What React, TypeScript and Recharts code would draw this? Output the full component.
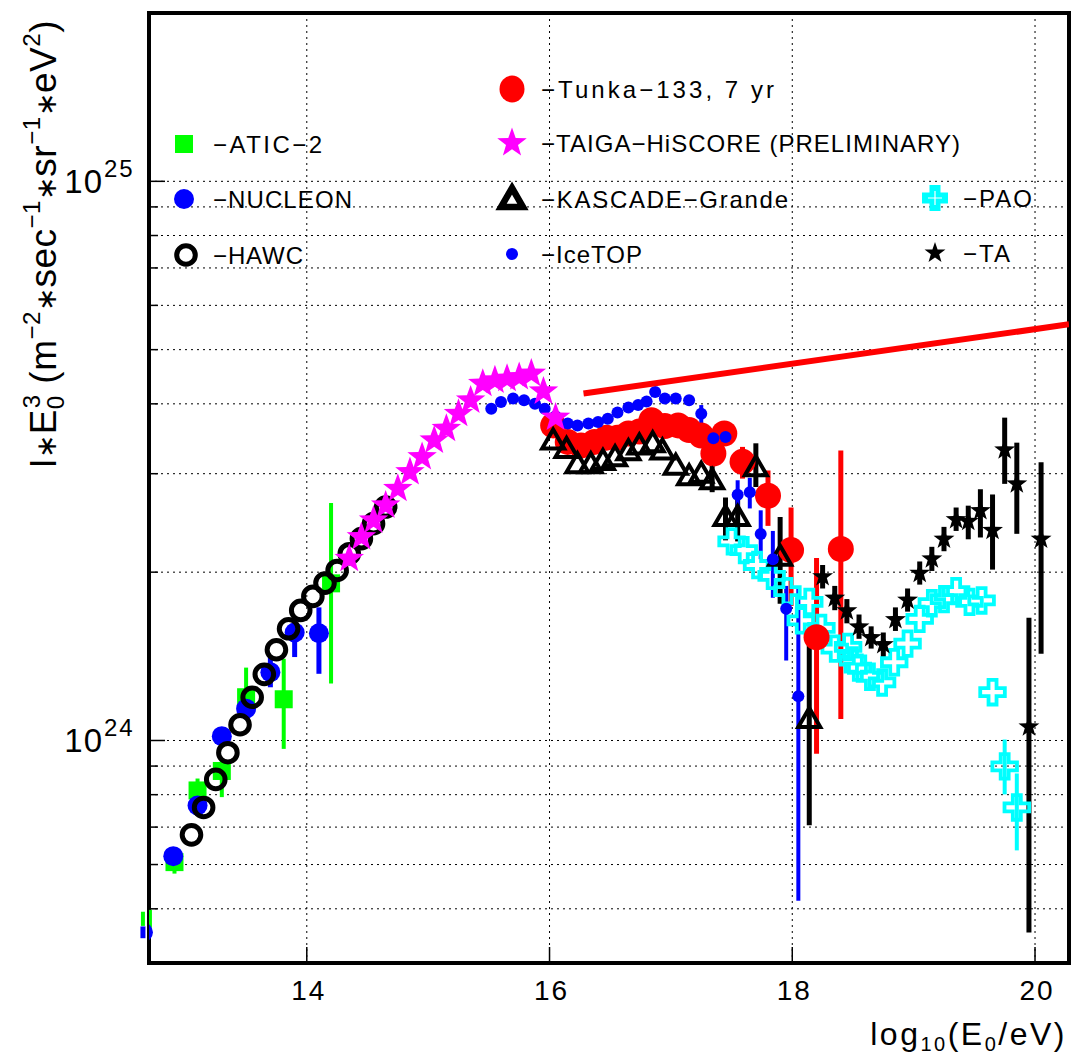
import {
  CartesianGrid,
  ErrorBar,
  Legend,
  ReferenceArea,
  Scatter,
  ScatterChart,
  XAxis,
  YAxis,
} from 'recharts';

const FONT = "'Liberation Sans', Arial, Helvetica, sans-serif";
const W = 1072;
const H = 1057;

// x: log10(E0/eV), y: I*E0^3 in units of 1e24 m^-2 s^-1 sr^-1 eV^2
const aticX = [12.65, 12.91, 13.1, 13.3, 13.5, 13.81, 14.2];
const aticY = [0.48, 0.606, 0.814, 0.882, 1.195, 1.185, 1.91];
const aticLo = [0.466, 0.578, 0.76, 0.792, 1.09, 0.966, 1.265];
const aticHi = [0.494, 0.636, 0.855, 0.921, 1.35, 1.4, 2.66];

const nucleonX = [12.65, 12.9, 13.1, 13.3, 13.5, 13.7, 13.9, 14.1];
const nucleonY = [0.454, 0.621, 0.765, 1.018, 1.14, 1.325, 1.56, 1.555];
const nucleonLo = [0.443, 0.6, 0.734, 0.984, 1.095, 1.245, 1.41, 1.316];
const nucleonHi = [0.465, 0.641, 0.797, 1.05, 1.19, 1.41, 1.625, 1.73];

const hawcX = [13.05, 13.15, 13.25, 13.35, 13.45, 13.55, 13.65, 13.75, 13.85, 13.95, 14.05, 14.15, 14.25, 14.35, 14.45, 14.55, 14.65];
const hawcY = [0.678, 0.759, 0.852, 0.951, 1.067, 1.195, 1.313, 1.453, 1.584, 1.709, 1.81, 1.912, 2.014, 2.158, 2.296, 2.442, 2.615];

const taigaX = [14.35, 14.45, 14.55, 14.65, 14.75, 14.85, 14.95, 15.05, 15.15, 15.25, 15.35, 15.45, 15.55, 15.65, 15.75, 15.85, 15.95, 16.05];
const taigaY = [2.114, 2.311, 2.475, 2.633, 2.82, 3.02, 3.213, 3.441, 3.611, 3.84, 4.057, 4.346, 4.406, 4.436, 4.467, 4.53, 4.21, 3.78];

const icetopX = [15.52, 15.6, 15.7, 15.79, 15.88, 15.96, 16.05, 16.15, 16.23, 16.32, 16.4, 16.48, 16.56, 16.65, 16.73, 16.8, 16.87, 16.95, 17.04, 17.15, 17.25, 17.35, 17.45, 17.55, 17.65, 17.74, 17.84, 17.95, 18.05];
const icetopY = [3.92, 4.03, 4.09, 4.06, 4.0, 3.92, 3.8, 3.69, 3.66, 3.69, 3.71, 3.76, 3.86, 3.94, 3.98, 4.04, 4.2, 4.09, 4.09, 4.06, 3.84, 3.47, 3.49, 2.75, 2.78, 2.34, 2.11, 1.72, 1.2];
const icetopLo = [null, null, null, null, null, null, null, null, null, null, null, null, null, null, null, null, null, null, null, null, 3.69, 3.37, 3.37, 2.6, 2.6, 2.11, 1.8, 1.39, 0.517];
const icetopHi = [null, null, null, null, null, null, null, null, null, null, null, null, null, null, null, null, null, null, null, null, 3.98, 3.56, 3.59, 2.92, 2.95, 2.58, 2.37, 1.89, 1.89];

const tunkaX = [16.03, 16.15, 16.26, 16.37, 16.47, 16.56, 16.65, 16.74, 16.84, 16.95, 17.06, 17.15, 17.25, 17.35, 17.44, 17.59, 17.8, 17.99, 18.2, 18.4];
const tunkaY = [3.66, 3.42, 3.37, 3.42, 3.48, 3.48, 3.54, 3.57, 3.74, 3.65, 3.66, 3.59, 3.51, 3.26, 3.54, 3.15, 2.74, 2.19, 1.53, 2.2];
const tunkaLo = [null, null, null, null, null, null, null, null, null, null, null, null, null, null, 3.43, 2.94, 2.42, 1.74, 0.947, 1.093];
const tunkaHi = [null, null, null, null, null, null, null, null, null, null, null, null, null, null, 3.65, 3.35, 3.04, 2.61, 2.12, 3.3];

const kascadeX = [16.03, 16.14, 16.23, 16.34, 16.44, 16.54, 16.65, 16.74, 16.85, 16.93, 17.04, 17.15, 17.25, 17.34, 17.45, 17.55, 17.7, 17.9, 18.14];
const kascadeY = [3.44, 3.32, 3.12, 3.12, 3.16, 3.21, 3.29, 3.37, 3.4, 3.3, 3.1, 2.97, 3.0, 2.92, 2.51, 2.51, 3.08, 2.13, 1.093];
const kascadeLo = [null, null, null, null, null, null, null, null, null, null, null, null, null, 2.78, 2.28, 2.27, 2.84, 1.756, 0.705];
const kascadeHi = [null, null, null, null, null, null, null, null, null, null, null, null, null, 3.13, 2.72, 2.78, 3.4, 2.51, 1.49];

const paoX = [17.5, 17.6, 17.71, 17.83, 17.96, 18.07, 18.14, 18.24, 18.35, 18.46, 18.5, 18.54, 18.64, 18.74, 18.84, 18.95, 19.05, 19.15, 19.25, 19.35, 19.46, 19.56, 19.65, 19.75, 19.85];
const paoY = [2.27, 2.19, 2.06, 1.97, 1.85, 1.64, 1.77, 1.59, 1.46, 1.47, 1.39, 1.35, 1.3, 1.27, 1.38, 1.49, 1.65, 1.76, 1.79, 1.85, 1.77, 1.78, 1.22, 0.899, 0.759];
const paoLo = [null, null, null, null, null, null, null, null, null, null, null, null, null, null, null, null, null, null, null, null, null, null, null, 0.801, 0.636];
const paoHi = [null, null, null, null, null, null, null, null, null, null, null, null, null, null, null, null, null, null, null, null, null, null, null, 1.004, 0.873];

const taX = [18.25, 18.35, 18.45, 18.55, 18.65, 18.75, 18.85, 18.95, 19.05, 19.15, 19.25, 19.35, 19.45, 19.55, 19.65, 19.75, 19.85, 19.95, 20.05];
const taY = [1.963, 1.797, 1.706, 1.597, 1.528, 1.484, 1.645, 1.783, 1.991, 2.112, 2.291, 2.484, 2.466, 2.577, 2.376, 3.309, 2.877, 1.058, 2.291];
const taLo = [1.87, 1.71, 1.62, 1.52, 1.46, 1.41, 1.57, 1.7, 1.9, 2.01, 2.18, 2.37, 2.29, 2.307, 2.021, 2.877, 2.342, 0.4535, 1.43];
const taHi = [2.06, 1.89, 1.79, 1.68, 1.6, 1.56, 1.73, 1.87, 2.09, 2.22, 2.41, 2.61, 2.63, 2.814, 2.754, 3.779, 3.409, 1.657, 3.144];

// straight reference line (red)
const lineX = [16.28, 20.28];
const lineY = [4.175, 5.55];

const xTicks = [14, 16, 18, 20];
const yTicks = [0.5, 0.6, 0.7, 0.8, 0.9, 1, 2, 3, 4, 5, 6, 7, 8, 9, 10, 20];

type Kind = 'atic' | 'nucleon' | 'hawc' | 'tunka' | 'taiga' | 'kascade' | 'icetop' | 'pao' | 'ta';

function toRows(xs: number[], ys: number[], lo?: (number | null)[], hi?: (number | null)[]) {
  return xs.map((x, i) => {
    const y = ys[i];
    const l = lo?.[i] ?? y;
    const h = hi?.[i] ?? y;
    return { x, y, err: [y - l, h - y] };
  });
}

function starPoints(cx: number, cy: number, R: number, r: number) {
  const pts: string[] = [];
  for (let i = 0; i < 10; i++) {
    const a = -Math.PI / 2 + (i * Math.PI) / 5;
    const rr = i % 2 === 0 ? R : r;
    pts.push(`${cx + rr * Math.cos(a)},${cy + rr * Math.sin(a)}`);
  }
  return pts.join(' ');
}

function crossPoints(cx: number, cy: number, L: number, a: number) {
  const p = [[-a, -L], [a, -L], [a, -a], [L, -a], [L, a], [a, a], [a, L], [-a, L], [-a, a], [-L, a], [-L, -a], [-a, -a]];
  return p.map(([dx, dy]) => `${cx + dx},${cy + dy}`).join(' ');
}

function Marker({ kind, cx, cy, inKey }: { kind: Kind; cx: number; cy: number; inKey?: boolean }) {
  switch (kind) {
    case 'atic':
      return <rect x={cx - 9} y={cy - 9} width={18} height={18} fill='#00ff00' />;
    case 'nucleon':
      return <circle cx={cx} cy={cy} r={10} fill='#0000ff' />;
    case 'hawc':
      return <circle cx={cx} cy={cy} r={9.3} fill='none' stroke='#000' strokeWidth={5} />;
    case 'tunka':
      return inKey
        ? <ellipse cx={cx} cy={cy} rx={12.5} ry={13.5} fill='#ff0000' />
        : <circle cx={cx} cy={cy} r={13} fill='#ff0000' />;
    case 'taiga':
      return <polygon points={starPoints(cx, cy, 15.5, 6.3)} fill='#ff00ff' />;
    case 'kascade':
      return (
        <polygon
          points={`${cx},${cy - 11} ${cx + 11},${cy + 8} ${cx - 11},${cy + 8}`}
          fill='none'
          stroke='#000'
          strokeWidth={inKey ? 6.5 : 4}
        />
      );
    case 'icetop':
      return <circle cx={cx} cy={cy} r={6} fill='#0000ff' />;
    case 'pao':
      return inKey
        ? (
          <g>
            <polygon points={crossPoints(cx, cy, 13, 5.5)} fill='#00ffff' />
            <polygon points={crossPoints(cx, cy, 7, 0.6)} fill='#fff' />
          </g>
        )
        : <polygon points={crossPoints(cx, cy, 12.3, 4)} fill='none' stroke='#00ffff' strokeWidth={3.8} />;
    case 'ta':
      return <polygon points={starPoints(cx, cy, 11, 4.4)} fill='#000' />;
  }
  return null;
}

const series: { kind: Kind; rows: ReturnType<typeof toRows>; color: string; ew: number }[] = [
  { kind: 'atic', rows: toRows(aticX, aticY, aticLo, aticHi), color: '#00ff00', ew: 4 },
  { kind: 'nucleon', rows: toRows(nucleonX, nucleonY, nucleonLo, nucleonHi), color: '#0000ff', ew: 5 },
  { kind: 'hawc', rows: toRows(hawcX, hawcY), color: '#000', ew: 4 },
  { kind: 'pao', rows: toRows(paoX, paoY, paoLo, paoHi), color: '#00ffff', ew: 4 },
  { kind: 'tunka', rows: toRows(tunkaX, tunkaY, tunkaLo, tunkaHi), color: '#ff0000', ew: 5 },
  { kind: 'kascade', rows: toRows(kascadeX, kascadeY, kascadeLo, kascadeHi), color: '#000', ew: 5 },
  { kind: 'icetop', rows: toRows(icetopX, icetopY, icetopLo, icetopHi), color: '#0000ff', ew: 4 },
  { kind: 'taiga', rows: toRows(taigaX, taigaY), color: '#ff00ff', ew: 4 },
  { kind: 'ta', rows: toRows(taX, taY, taLo, taHi), color: '#000', ew: 5 },
];

const lineRows = toRows(lineX, lineY);

// legend layout: marker centre, text start and text width
const keyItems: { kind: Kind; label: string; mx: number; my: number; tx: number; tw: number }[] = [
  { kind: 'atic', label: '−ATIC−2', mx: 184, my: 144, tx: 213, tw: 109 },
  { kind: 'nucleon', label: '−NUCLEON', mx: 184, my: 199, tx: 213, tw: 139 },
  { kind: 'hawc', label: '−HAWC', mx: 186, my: 255, tx: 213, tw: 90 },
  { kind: 'tunka', label: '−Tunka−133, 7 yr', mx: 512, my: 89, tx: 541, tw: 233 },
  { kind: 'taiga', label: '−TAIGA−HiSCORE (PRELIMINARY)', mx: 512, my: 143, tx: 541, tw: 419 },
  { kind: 'kascade', label: '−KASCADE−Grande', mx: 512, my: 199, tx: 541, tw: 247 },
  { kind: 'icetop', label: '−IceTOP', mx: 512, my: 254, tx: 541, tw: 101 },
  { kind: 'pao', label: '−PAO', mx: 935, my: 198, tx: 963, tw: 69 },
  { kind: 'ta', label: '−TA', mx: 935, my: 253, tx: 963, tw: 47 },
];

function Key() {
  return (
    <svg width={W} height={H} style={{ position: 'absolute', left: 0, top: 0 }}>
      {keyItems.map((k) => (
        <g key={k.label}>
          <Marker kind={k.kind} cx={k.mx} cy={k.my} inKey />
          <text
            x={k.tx}
            y={k.my}
            dominantBaseline='central'
            fontSize={24}
            textLength={k.tw}
            lengthAdjust='spacing'
            fontFamily={FONT}
            fill='#000'
          >
            {k.label}
          </text>
        </g>
      ))}
    </svg>
  );
}

function XTick(props: any) {
  const { x, y, payload } = props;
  return (
    <g>
      <line x1={x} x2={x} y1={y} y2={y - 16} stroke='#000' strokeWidth={1.5} />
      <text x={x + 2} y={y + 37} textAnchor='middle' fontSize={28} letterSpacing={2} fontFamily={FONT} fill='#000'>
        {payload.value}
      </text>
    </g>
  );
}

function YTick(props: any) {
  const { x, y, payload } = props;
  const v = payload.value;
  const exp = v === 1 ? '24' : v === 10 ? '25' : null;
  return (
    <g>
      <line x1={x} x2={x + (exp ? 16 : 9)} y1={y} y2={y} stroke='#000' strokeWidth={1.5} />
      {exp && (
        <text x={x - 46} y={y + 12} textAnchor='end' fontSize={33} letterSpacing={1} fontFamily={FONT} fill='#000'>
          10
        </text>
      )}
      {exp && (
        <text x={x - 45} y={y - 4} fontSize={24} letterSpacing={2} fontFamily={FONT} fill='#000'>
          {exp}
        </text>
      )}
    </g>
  );
}

function XTitle(props: any) {
  const { viewBox } = props;
  return (
    <text
      x={viewBox.x + viewBox.width - 2}
      y={viewBox.y + 82}
      textAnchor='end'
      fontSize={32}
      letterSpacing={2.5}
      fontFamily={FONT}
      fill='#000'
    >
      log<tspan fontSize={20} dy={6}>10</tspan>
      <tspan dy={-6}>(E</tspan>
      <tspan fontSize={20} dy={6}>0</tspan>
      <tspan dy={-6}>/eV)</tspan>
    </text>
  );
}

function YTitle(props: any) {
  const { viewBox } = props;
  const ax = viewBox.x + 56;
  const ay = viewBox.y + 7;
  return (
    <text
      transform={`translate(${ax},${ay}) rotate(-90)`}
      textAnchor='end'
      fontSize={37}
      letterSpacing={0.5}
      fontFamily={FONT}
      fill='#000'
    >
      I<tspan fontSize={28}>∗</tspan>E<tspan fontSize={24} dy={8}>0</tspan>
      <tspan fontSize={24} dx={-13} dy={-24}>3</tspan>
      <tspan dy={16}> (m</tspan>
      <tspan fontSize={24} dy={-16}>−2</tspan>
      <tspan fontSize={28} dy={16}>∗</tspan>
      <tspan>sec</tspan>
      <tspan fontSize={24} dy={-16}>−1</tspan>
      <tspan fontSize={28} dy={16}>∗</tspan>
      <tspan>sr</tspan>
      <tspan fontSize={24} dy={-16}>−1</tspan>
      <tspan fontSize={28} dy={16}>∗</tspan>
      <tspan>eV</tspan>
      <tspan fontSize={24} dy={-16}>2</tspan>
      <tspan dy={16}>)</tspan>
    </text>
  );
}

export default function App() {
  return (
    <div style={{ position: 'absolute', left: 0, top: 0, width: W, height: H, background: '#fff' }}>
      <ScatterChart width={W} height={H} margin={{ top: 13, right: 3, bottom: 0, left: 0 }}>
        <CartesianGrid stroke='#000' strokeDasharray='2 4' strokeWidth={1} />
        <XAxis
          type='number'
          dataKey='x'
          domain={[12.7, 20.28]}
          allowDataOverflow
          ticks={xTicks}
          interval={0}
          height={94}
          tickSize={0}
          tickMargin={0}
          tickLine={false}
          axisLine={false}
          tick={<XTick />}
          label={(p: any) => <XTitle {...p} />}
        />
        <YAxis
          type='number'
          dataKey='y'
          scale='log'
          domain={[0.4, 20]}
          allowDataOverflow
          ticks={yTicks}
          interval={0}
          width={149}
          tickSize={0}
          tickMargin={0}
          tickLine={false}
          axisLine={false}
          tick={<YTick />}
          label={(p: any) => <YTitle {...p} />}
        />
        {series.map((s) => (
          <Scatter
            key={s.kind}
            name={s.kind}
            data={s.rows}
            isAnimationActive={false}
            shape={(p: any) => <Marker kind={s.kind} cx={p.cx} cy={p.cy} />}
          >
            <ErrorBar dataKey='err' direction='y' width={0} stroke={s.color} strokeWidth={s.ew} />
          </Scatter>
        ))}
        <Scatter
          name='line'
          data={lineRows}
          isAnimationActive={false}
          line={{ stroke: '#ff0000', strokeWidth: 6 }}
          strokeWidth={6}
          lineType='joint'
          shape={() => <g />}
        />
        <ReferenceArea
          x1={12.7}
          x2={20.28}
          y1={0.4}
          y2={20}
          fill='none'
          stroke='#000'
          strokeWidth={4}
          ifOverflow='visible'
        />
        <Legend
          layout='horizontal'
          verticalAlign='middle'
          align='center'
          content={<Key />}
          wrapperStyle={{ left: 0, top: 0, width: W, height: H, pointerEvents: 'none' }}
        />
      </ScatterChart>
    </div>
  );
}
